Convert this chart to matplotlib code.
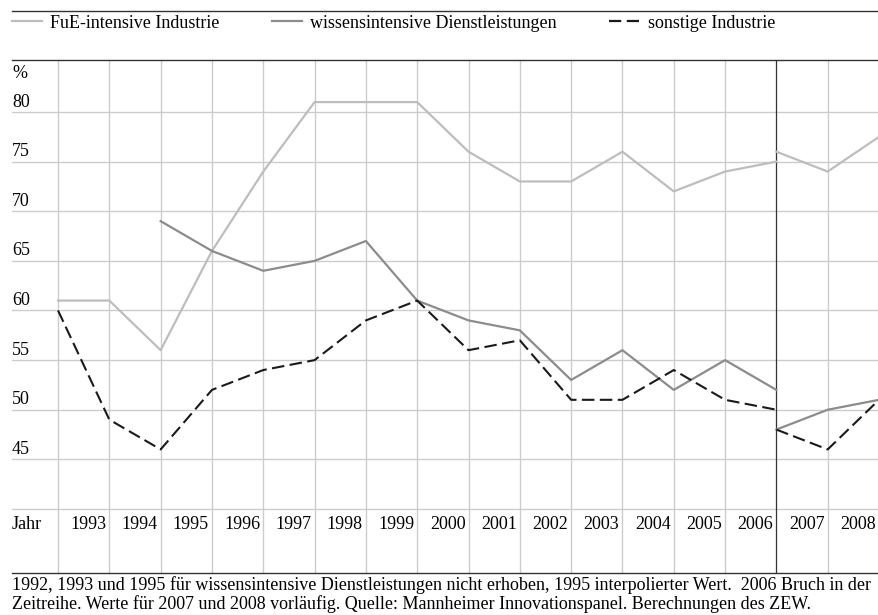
import matplotlib
matplotlib.use("Agg")
import matplotlib.pyplot as plt
from matplotlib.lines import Line2D
import numpy as np

plt.rcParams["font.family"] = ["Liberation Serif", "DejaVu Serif"]

# Werte bis 2006 (alte Abgrenzung)
years = list(range(1992, 2007))
fue = [61, 61, 56, 66, 74, 81, 81, 81, 76, 73, 73, 76, 72, 74, 75]
wissen = [np.nan, np.nan, 69, 66, 64, 65, 67, 61, 59, 58, 53, 56, 52, 55, 52]
sonst = [60, 49, 46, 52, 54, 55, 59, 61, 56, 57, 51, 51, 54, 51, 50]

# ab 2006 (Bruch in der Zeitreihe)
years_new = [2006, 2007, 2008]
fue_new = [76, 74, 77.5]
wissen_new = [48, 50, 51]
sonst_new = [48, 46, 51]

labels = ["FuE-intensive Industrie", "wissensintensive Dienstleistungen", "sonstige Industrie"]
yticks = [80, 75, 70, 65, 60, 55, 50, 45]
year_labels = list(range(1993, 2009))

c_fue = "#bdbdbd"
c_wis = "#8c8c8c"
c_son = "#1a1a1a"
c_grid = "#cccccc"
c_frame = "#333333"
fs = 13

W, H = 879, 615
fig = plt.figure(figsize=(W / 100, H / 100), dpi=100)
ax = fig.add_axes([12 / W, (H - 573) / H, (W - 12) / W, (573 - 60) / H])

ax.set_xlim(1991.103, 2008.0)
ax.set_ylim(33.55, 85.24)

# gitter
for v in yticks + [40]:
    ax.axhline(v, color=c_grid, lw=1.0, zorder=1)
for yr in range(1992, 2008):
    if yr == 2006:
        ax.axvline(yr, color=c_frame, lw=0.9, zorder=1)
    else:
        ax.axvline(yr, color=c_grid, lw=1.0, zorder=1)

ax.plot(years, fue, color=c_fue, lw=1.6, zorder=3)
ax.plot(years, wissen, color=c_wis, lw=1.6, zorder=3)
ax.plot(years, sonst, color=c_son, lw=1.5, dashes=(6, 2.6), zorder=4)
ax.plot(years_new, fue_new, color=c_fue, lw=1.6, zorder=3, clip_on=False)
ax.plot(years_new, wissen_new, color=c_wis, lw=1.6, zorder=3, clip_on=False)
ax.plot(years_new, sonst_new, color=c_son, lw=1.5, dashes=(6, 2.6), zorder=4, clip_on=False)

for s in ["left", "right"]:
    ax.spines[s].set_visible(False)
for s in ["top", "bottom"]:
    ax.spines[s].set_color(c_frame)
    ax.spines[s].set_linewidth(1.0)
ax.set_xticks([])
ax.set_yticks([])

# achsenbeschriftung im diagramm
x0 = ax.get_xlim()[0]
for v in yticks:
    ax.text(x0, v + 0.15, str(v), fontsize=fs, ha="left", va="bottom")
ax.text(x0, 83.0, "%", fontsize=fs, ha="left", va="bottom")
ax.text(x0, 38.4, "Jahr", fontsize=fs, ha="left", va="center")
for yr in year_labels:
    ax.text(yr - 0.06, 38.4, str(yr), fontsize=fs, ha="right", va="center")

# legende
fig.add_artist(Line2D([12 / W, 1], [1 - 11 / H, 1 - 11 / H], color=c_frame, lw=1.0))
handles = [
    Line2D([], [], color=c_fue, lw=1.6),
    Line2D([], [], color=c_wis, lw=1.6),
    Line2D([], [], color=c_son, lw=1.6, dashes=(5.5, 2.5)),
]
fig.legend(handles, labels, loc="center left", bbox_to_anchor=(12 / W, 1 - 23 / H),
           ncol=3, frameon=False, fontsize=fs, handlelength=1.67, handletextpad=0.45,
           columnspacing=2.9, borderpad=0, borderaxespad=0)

# fussnote
fig.text(12 / W, 1 - 585 / H,
         "1992, 1993 und 1995 für wissensintensive Dienstleistungen nicht erhoben, 1995 interpolierter Wert.  2006 Bruch in der",
         fontsize=fs, ha="left", va="center")
fig.text(12 / W, 1 - 604 / H,
         "Zeitreihe. Werte für 2007 und 2008 vorläufig. Quelle: Mannheimer Innovationspanel. Berechnungen des ZEW.",
         fontsize=fs, ha="left", va="center")

fig.savefig("out.png", dpi=100)
